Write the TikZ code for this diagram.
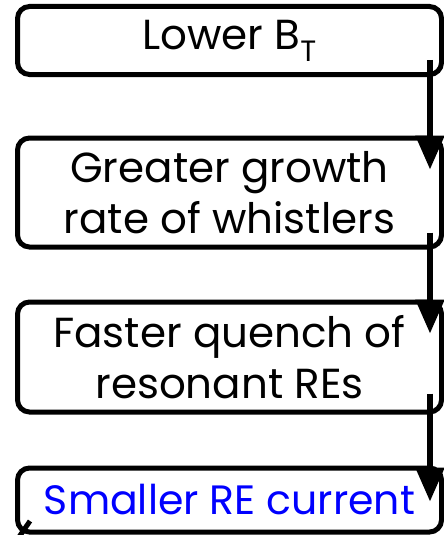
\documentclass[tikz,border=0pt]{standalone}
\usepackage{fontspec}
\setmainfont{Poppins}
\usetikzlibrary{arrows.meta,calc}
\begin{document}
\begin{tikzpicture}[x=1pt,y=1pt,
  box/.style={draw=black,line width=5pt,rounded corners=12pt,minimum width=424pt,inner sep=0pt,
    align=center,font=\fontsize{42}{51}\selectfont},
  flow/.style={line width=5.5pt,-{Triangle[length=34pt,width=28pt]}}]
\useasboundingbox (0,0) rectangle (444,-535);
\node[box,minimum height=68pt] (b1) at (229.5,-40.5) {Lower B\textsubscript{T}};
\node[box,minimum height=109pt] (b2) at (229.5,-192.5) {Greater growth\\rate of whistlers};
\node[box,minimum height=110pt] (b3) at (229.5,-357) {Faster quench of\\resonant REs};
\node[box,minimum height=64pt,text=blue,font=\fontsize{41}{51}\selectfont] (b4) at (229.5,-500) {Smaller RE current};
\draw[flow] ($(b1.south east)+(-14,17)$) -- ($(b2.north east)+(-14,-34)$);
\draw[flow] ($(b2.south east)+(-14,17)$) -- ($(b3.north east)+(-14,-34)$);
\draw[flow] ($(b3.south east)+(-14,21)$) -- ($(b4.north east)+(-14,-36)$);
\coordinate (s1) at (30,-521);
\coordinate (s2) at (19,-537);
\draw[line width=5pt] (s1) -- (s2);
\end{tikzpicture}
\end{document}
